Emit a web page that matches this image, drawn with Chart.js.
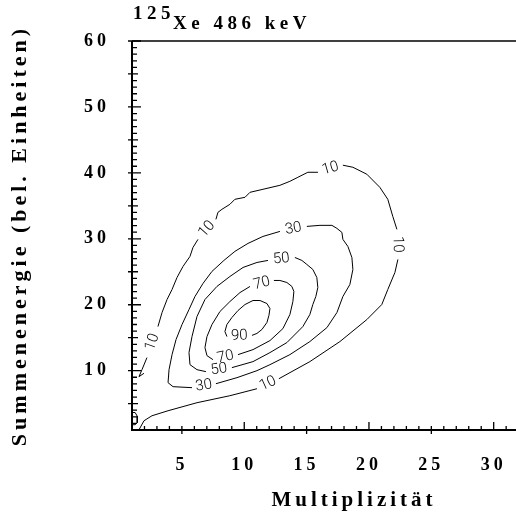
<!DOCTYPE html>
<html>
<head>
<meta charset="utf-8">
<script src="https://cdn.jsdelivr.net/npm/chart.js@4"></script>
<style>
  html, body { margin: 0; padding: 0; background: #fff; overflow: hidden; }
  #wrap { width: 516px; height: 516px; overflow: hidden; position: relative; }
  canvas { display: block; }
</style>
</head>
<body>
<div id="wrap"><canvas id="contourChart" width="576" height="516"></canvas></div>
<script>
// labelled ticks
const xTickValues = [5, 10, 15, 20, 25, 30];
const yTickValues = [10, 20, 30, 40, 50, 60];

// contour lines as [multiplicity, sum energy] points, split where a label sits
const contour10 = [
    [[1.56, 1.03], [1.96, 2.40], [2.60, 3.16], [3.89, 3.92], [6.21, 5.14], [8.85, 6.20], [11.02, 7.26]],
    [[12.78, 8.78], [15.26, 11.37], [17.67, 14.41], [19.83, 17.75], [21.03, 20.03], [21.51, 22.31], [22.08, 24.89], [22.32, 26.87]],
    [[22.24, 31.43], [21.91, 33.40], [21.51, 35.99], [20.87, 37.81], [19.83, 39.79], [18.71, 40.85], [17.91, 41.16]],
    [[15.91, 40.09], [15.10, 40.09], [14.30, 39.33], [13.66, 38.72], [12.86, 38.11], [11.50, 37.51], [10.46, 37.05],
     [10.06, 36.29], [9.25, 35.99], [8.85, 35.23], [8.21, 34.47], [7.89, 34.01], [7.73, 32.95]],
    [[6.29, 29.91], [5.89, 28.69], [5.65, 27.33], [5.09, 25.81], [4.61, 24.13], [4.21, 22.31], [3.81, 20.79], [3.41, 18.82], [3.08, 16.69]],
    [[2.20, 11.98], [1.80, 10.15], [1.56, 9.09], [1.96, 9.60]]
];
const contour30 = [
    [[7.73, 8.02], [9.42, 8.94], [11.02, 10.00], [12.06, 10.91], [13.66, 12.43], [15.26, 14.41], [16.63, 16.53], [17.43, 18.81],
     [17.91, 21.25], [18.47, 23.07], [18.71, 25.35], [18.63, 27.17], [18.31, 28.84], [17.91, 29.91], [17.83, 30.97],
     [17.43, 31.58], [17.03, 32.04], [16.07, 32.04], [15.02, 31.88]],
    [[12.86, 31.12], [11.50, 30.36], [10.30, 29.30], [9.25, 28.09], [8.37, 26.72], [7.41, 25.05], [6.69, 23.22], [6.05, 21.25],
     [5.57, 19.27], [5.01, 16.99], [4.53, 14.71], [4.21, 12.43], [3.97, 10.15], [3.89, 8.18], [4.29, 7.57], [5.81, 7.42]]
];
const contour50 = [
    [[9.01, 10.46], [10.70, 11.37], [12.06, 12.74], [13.42, 14.26], [14.70, 16.69], [15.26, 18.51], [15.50, 20.03], [15.74, 21.25],
     [15.90, 22.61], [15.82, 24.13], [15.50, 25.35], [15.02, 26.11], [14.62, 26.72], [14.06, 27.17]],
    [[11.90, 26.72], [11.02, 26.41], [9.90, 25.65], [8.85, 24.28], [7.81, 22.77], [6.85, 20.79], [6.21, 18.21], [5.81, 15.17],
     [5.57, 12.74], [5.65, 10.91], [6.21, 10.15], [6.93, 9.85]]
];
const contour70 = [
    [[9.50, 12.43], [10.70, 13.19], [12.06, 14.56], [13.10, 16.38], [13.66, 18.51], [13.90, 20.48], [13.98, 22.01], [13.82, 22.77],
     [13.42, 23.37], [12.86, 23.68], [12.38, 23.68]],
    [[10.46, 22.77], [9.66, 21.85], [8.85, 20.48], [8.05, 18.97], [7.41, 16.99], [7.01, 15.17], [6.85, 13.50], [7.01, 12.28], [7.49, 11.67]]
];
const contour90 = [
    [[10.62, 15.35], [11.02, 15.65], [11.42, 16.25], [11.82, 17.31], [11.98, 18.39], [12.06, 19.42], [11.82, 20.18], [11.26, 20.64],
     [10.70, 20.64], [10.06, 20.03], [9.50, 19.12], [9.01, 18.06], [8.61, 17.00], [8.45, 15.94], [8.61, 15.17]]
];
// tiny island next to the origin
const cornerLoop = [[1.0, 3.65], [1.25, 3.65], [1.42, 3.1], [1.42, 2.1], [1.25, 1.8], [1.0, 1.8]];

const contourLevels = [
    { label: '10', segments: contour10, closed: false },
    { label: '30', segments: contour30, closed: true },
    { label: '50', segments: contour50, closed: true },
    { label: '70', segments: contour70, closed: true },
    { label: '90', segments: contour90, closed: true }
];

const SERIF = '"Liberation Serif", "DejaVu Serif", serif';

function lineDataset(points) {
    return {
        data: points.map(p => ({ x: p[0], y: p[1] })),
        showLine: true,
        pointRadius: 0,
        borderColor: '#000',
        borderWidth: 1,
        tension: 0,
        fill: false
    };
}

const datasets = [];
contourLevels.forEach(level => level.segments.forEach(seg => datasets.push(lineDataset(seg))));
datasets.push(lineDataset(cornerLoop));

// wide spacing like the old plotter font
const spacingPlugin = {
    id: 'spacing',
    beforeDraw(chart) {
        chart.ctx.letterSpacing = '4px';
    }
};

// frame with inward ticks
const framePlugin = {
    id: 'frame',
    afterDraw(chart) {
        const { ctx, chartArea: area, scales: { x, y } } = chart;
        ctx.save();
        ctx.strokeStyle = '#000';
        ctx.lineWidth = 2;
        ctx.beginPath();
        ctx.moveTo(area.left, area.top);
        ctx.lineTo(area.left, area.bottom);
        ctx.lineTo(area.right, area.bottom);
        ctx.stroke();
        ctx.lineWidth = 1.5;
        ctx.beginPath();
        ctx.moveTo(area.left, area.top);
        ctx.lineTo(area.right, area.top);
        ctx.stroke();

        ctx.lineWidth = 1.3;
        ctx.beginPath();
        for (let v = Math.ceil(y.min) + 1; v <= y.max; v++) {
            const py = y.getPixelForValue(v);
            let out = 0, inn = 5;
            if (v % 10 === 0) { out = 4; inn = 9; }
            else if (v % 5 === 0) { out = 4; inn = 6; }
            ctx.moveTo(area.left - out, py);
            ctx.lineTo(area.left + inn, py);
        }
        for (let v = Math.ceil(x.min) + 1; v <= x.max; v++) {
            const px = x.getPixelForValue(v);
            let down = 0, up = 4;
            if (v % 10 === 0) { up = 8; }
            else if (v % 5 === 0) { down = 4; up = 4; }
            ctx.moveTo(px, area.bottom + down);
            ctx.lineTo(px, area.bottom - up);
        }
        ctx.stroke();
        ctx.restore();
    }
};

// level numbers placed in the gaps of each contour
const contourLabelPlugin = {
    id: 'contourLabels',
    afterDatasetsDraw(chart) {
        const { ctx, scales: { x, y } } = chart;
        ctx.save();
        ctx.letterSpacing = '0px';
        ctx.font = '300 15px Roboto, "DejaVu Sans", sans-serif';
        ctx.fillStyle = '#000';
        ctx.textAlign = 'center';
        ctx.textBaseline = 'middle';
        contourLevels.forEach(level => {
            const segs = level.segments;
            const gaps = level.closed ? segs.length : segs.length - 1;
            for (let i = 0; i < gaps; i++) {
                const a = segs[i][segs[i].length - 1];
                const b = segs[(i + 1) % segs.length][0];
                const ax = x.getPixelForValue(a[0]), ay = y.getPixelForValue(a[1]);
                const bx = x.getPixelForValue(b[0]), by = y.getPixelForValue(b[1]);
                let ang = Math.atan2(by - ay, bx - ax);
                if (ang > Math.PI / 2) ang -= Math.PI;
                if (ang < -Math.PI / 2) ang += Math.PI;
                ctx.save();
                ctx.translate((ax + bx) / 2, (ay + by) / 2);
                ctx.rotate(ang);
                ctx.fillText(level.label, 0, 0);
                ctx.restore();
            }
        });
        ctx.restore();
    }
};

// heading with mass number raised
const headingPlugin = {
    id: 'heading',
    afterDraw(chart) {
        const { ctx, chartArea: area } = chart;
        ctx.save();
        ctx.font = 'bold 19px ' + SERIF;
        ctx.letterSpacing = '4.5px';
        ctx.fillStyle = '#000';
        ctx.textAlign = 'left';
        ctx.textBaseline = 'alphabetic';
        ctx.fillText('125', area.left + 1, 19);
        const w = ctx.measureText('125').width;
        ctx.fillText('Xe 486 keV', area.left + w - 1, 29);
        ctx.restore();
    }
};

const ctx = document.getElementById('contourChart').getContext('2d');
new Chart(ctx, {
    type: 'scatter',
    data: { datasets: datasets },
    options: {
        responsive: false,
        animation: false,
        layout: { padding: { top: 41, left: 0, right: 0, bottom: 0 } },
        plugins: {
            legend: { display: false },
            tooltip: { enabled: false },
            title: { display: false }
        },
        scales: {
            x: {
                type: 'linear',
                position: 'bottom',
                min: 1,
                max: 36.6,
                afterBuildTicks: axis => { axis.ticks = xTickValues.map(v => ({ value: v })); },
                afterFit: axis => { axis.height = 86; },
                grid: { display: false, drawTicks: false, tickLength: 0 },
                border: { display: false },
                ticks: {
                    color: '#000',
                    font: { family: SERIF, size: 18, weight: 'bold' },
                    padding: 25,
                    maxRotation: 0,
                    autoSkip: false
                },
                title: {
                    display: true,
                    text: 'Multiplizität',
                    color: '#000',
                    font: { family: SERIF, size: 21, weight: 'bold' },
                    padding: { top: 0, bottom: 3 }
                }
            },
            y: {
                type: 'linear',
                min: 1,
                max: 60,
                afterBuildTicks: axis => { axis.ticks = yTickValues.map(v => ({ value: v })); },
                afterFit: axis => { axis.width = 132; },
                grid: { display: false, drawTicks: false, tickLength: 0 },
                border: { display: false },
                ticks: {
                    color: '#000',
                    font: { family: SERIF, size: 18, weight: 'bold' },
                    padding: 22,
                    autoSkip: false
                },
                title: {
                    display: true,
                    text: 'Summenenergie (bel. Einheiten)',
                    color: '#000',
                    font: { family: SERIF, size: 22, weight: 'bold' },
                    padding: { top: 7, bottom: 0 }
                }
            }
        }
    },
    plugins: [spacingPlugin, framePlugin, contourLabelPlugin, headingPlugin]
});
</script>
</body>
</html>
